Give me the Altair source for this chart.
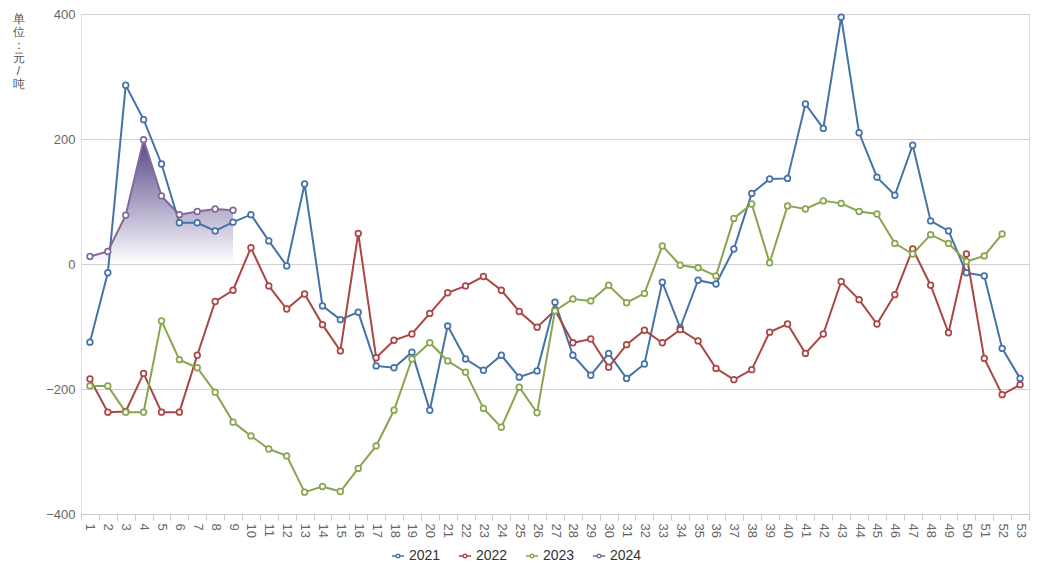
import altair as alt
import pandas as pd

weeks = list(range(1, 54))
series_names = ["2021", "2022", "2023", "2024"]
series_colors = ["#4572A7", "#AA4643", "#89A54E", "#80699B"]

y2021 = [-125, -14, 286, 231, 160, 66, 66, 53, 67, 79, 37, -3, 128, -67, -89, -77,
         -163, -166, -141, -234, -99, -152, -170, -146, -181, -171, -61, -146, -178,
         -143, -183, -160, -29, -102, -26, -32, 24, 113, 136, 137, 256, 217, 395, 210,
         139, 110, 190, 69, 53, -14, -19, -135, -183]
y2022 = [-184, -237, -236, -175, -237, -237, -146, -60, -42, 26, -35, -72, -48, -97,
         -139, 49, -150, -122, -112, -79, -46, -35, -20, -42, -76, -101, -74, -126,
         -120, -165, -129, -106, -126, -105, -123, -167, -185, -169, -109, -96, -143,
         -112, -28, -57, -96, -49, 24, -34, -110, 16, -151, -209, -193]
y2023 = [-195, -195, -237, -237, -91, -153, -166, -205, -253, -275, -296, -307, -365,
         -356, -364, -327, -291, -234, -152, -126, -155, -173, -231, -261, -197, -238,
         -75, -56, -59, -34, -62, -47, 29, -2, -6, -19, 73, 96, 2, 93, 88, 101, 97, 84,
         80, 33, 16, 47, 33, 4, 13, 48]
y2024 = [12, 20, 78, 199, 109, 79, 84, 88, 86]

y_title = ["单", "位", "：", "元", "/", "吨"]

rows = []
for name, vals in zip(series_names, [y2021, y2022, y2023, y2024]):
    for w, v in zip(weeks, vals):
        rows.append({"week": w, "value": v, "year": name})
df = pd.DataFrame(rows)
df24 = df[df["year"] == "2024"]

x_enc = alt.X(
    "week:O",
    scale=alt.Scale(type="band", domain=weeks, paddingInner=0, paddingOuter=0),
    bandPosition=0.5,
    axis=alt.Axis(
        title=None,
        labelAngle=90,
        labelAlign="left",
        labelBaseline="middle",
        labelPadding=3,
        labelFontSize=13,
        labelColor="#666666",
        tickBand="extent",
        tickSize=6,
        tickColor="#cccccc",
        domainColor="#cccccc",
        grid=False,
    ),
)
y_enc = alt.Y(
    "value:Q",
    scale=alt.Scale(domain=[-400, 400], nice=False, zero=False),
    axis=alt.Axis(
        values=[-400, -200, 0, 200, 400],
        title=y_title,
        titleAngle=0,
        titleX=-63,
        titleY=-1,
        titleAlign="center",
        titleBaseline="top",
        titleFontSize=12,
        titleFontWeight="normal",
        titleColor="#555555",
        titleLineHeight=13,
        labelFontSize=13,
        labelColor="#666666",
        labelPadding=6,
        domain=False,
        ticks=False,
        gridColor="#d0d0d0",
    ),
)

color_scale = alt.Scale(domain=series_names, range=series_colors)

area = alt.Chart(df24).mark_area(
    color=alt.Gradient(
        gradient="linear",
        stops=[
            alt.GradientStop(color="#55458a", offset=0),
            alt.GradientStop(color="#ffffff", offset=1),
        ],
        x1=1, x2=1, y1=0, y2=1,
    ),
    opacity=1,
).encode(x=x_enc, y=y_enc)

legend_symbol = ("M-1,0H-0.38M0.38,0H1"
                 "M0.3,0A0.3,0.3 0 1,1 -0.3,0A0.3,0.3 0 1,1 0.3,0")

lines = alt.Chart(df).mark_line(strokeWidth=2).encode(
    x=x_enc,
    y=y_enc,
    color=alt.Color(
        "year:N",
        scale=color_scale,
        legend=alt.Legend(
            title=None,
            orient="none",
            direction="horizontal",
            legendX=310,
            legendY=535,
            symbolType=legend_symbol,
            symbolSize=150,
            symbolStrokeWidth=1.5,
            symbolFillColor="white",
            labelFontSize=14,
            labelColor="#333333",
            columnPadding=14,
            labelOffset=4,
        ),
    ),
)

points = alt.Chart(df).mark_point(
    shape="circle", size=32, filled=False, fill="white", fillOpacity=1, strokeWidth=1.7, opacity=1
).encode(
    x=x_enc,
    y=y_enc,
    color=alt.Color("year:N", scale=color_scale, legend=None),
)

chart = alt.layer(area, lines, points).properties(
    width=948,
    height=500,
    autosize=alt.AutoSizeParams(type="none"),
    padding={"left": 73, "top": 6, "right": 12, "bottom": 52},
).configure_view(stroke=None).configure(background="white")

chart.save("out.html", embed_options={"renderer": "svg", "actions": False})
